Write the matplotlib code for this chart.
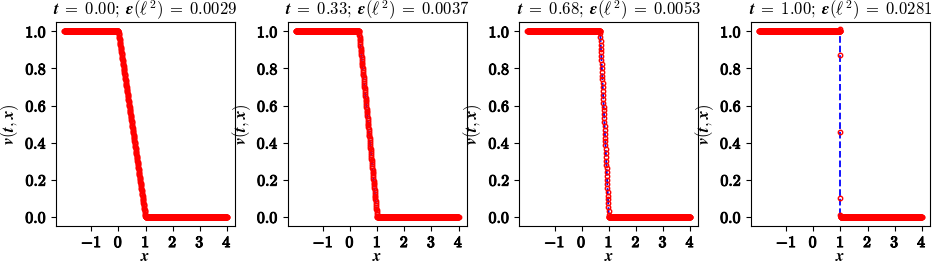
import numpy as np
import matplotlib
matplotlib.use("Agg")
import matplotlib.pyplot as plt
import matplotlib.patheffects as pe
from matplotlib.ticker import FuncFormatter

plt.rcParams["mathtext.fontset"] = "cm"
plt.rcParams["axes.unicode_minus"] = True

# === Donnees ===
times = [0.00, 0.33, 0.68, 1.00]
errors = [0.0029, 0.0037, 0.0053, 0.0281]

# profil exact : noeuds (x, v) de la solution par morceaux
knots_x = [
    [-2.0, 0.00, 1.00, 4.0],
    [-2.0, 0.33, 1.00, 4.0],
    [-2.0, 0.68, 1.00, 4.0],
    [-2.0, 1.00, 1.00, 4.0],
]
knots_v = [
    [1.0, 1.0, 0.0, 0.0],
    [1.0, 1.0, 0.0, 0.0],
    [1.0, 1.0, 0.0, 0.0],
    [1.0, 1.0, 0.0, 0.0],
]

# maillage spatial de la prediction
x_grid = np.linspace(-2.0, 4.0, 900)

# points de la prediction dans le choc (t = 1.00)
shock_x = [1.0, 1.0, 1.0, 1.0, 1.0]
shock_v = [1.015, 0.87, 0.46, 0.10, 0.01]

xticks = [-1, 0, 1, 2, 3, 4]
yticks = [0.0, 0.2, 0.4, 0.6, 0.8, 1.0]

bold = [pe.withStroke(linewidth=0.7, foreground="black")]

fig = plt.figure(figsize=(9.34, 2.66), dpi=100)
lefts = [0.060, 0.308, 0.556, 0.804]

for i in range(4):
    ax = fig.add_axes([lefts[i], 0.150, 0.1917, 0.767])
    xe, ve = knots_x[i], knots_v[i]
    ax.plot(xe, ve, "b--", lw=1.3, zorder=2)

    v_pred = np.interp(x_grid, xe, ve)
    xp, vp = x_grid, v_pred
    if i == 3:
        xp = np.concatenate([x_grid, shock_x])
        vp = np.concatenate([v_pred, shock_v])
    ax.plot(xp, vp, "o", ms=3.2, mfc="none", mec="red", mew=1.0, zorder=3)

    ax.set_xlim(-2.3, 4.3)
    ax.set_ylim(-0.05, 1.05)
    ax.set_xticks(xticks)
    ax.set_yticks(yticks)
    ax.xaxis.set_major_formatter(FuncFormatter(lambda v, p: r"$\mathbf{%d}$" % v))
    ax.yaxis.set_major_formatter(FuncFormatter(lambda v, p: r"$\mathbf{%.1f}$" % v))
    ax.tick_params(labelsize=11.5, pad=3)
    for lab in ax.get_xticklabels() + ax.get_yticklabels():
        lab.set_path_effects(bold)
    ax.set_xlabel(r"$\boldsymbol{x}$", fontsize=11.5, labelpad=-1)
    ax.set_ylabel(r"$\boldsymbol{v(t,x)}$", fontsize=12, labelpad=3)
    ax.set_title(r"$\boldsymbol{t}\;\mathbf{=}\;\mathbf{%.2f;}\;\boldsymbol{\epsilon(\ell^2)}\;=\;%.4f$"
                 % (times[i], errors[i]), fontsize=12, pad=3)

fig.savefig("out.png", dpi=100)
